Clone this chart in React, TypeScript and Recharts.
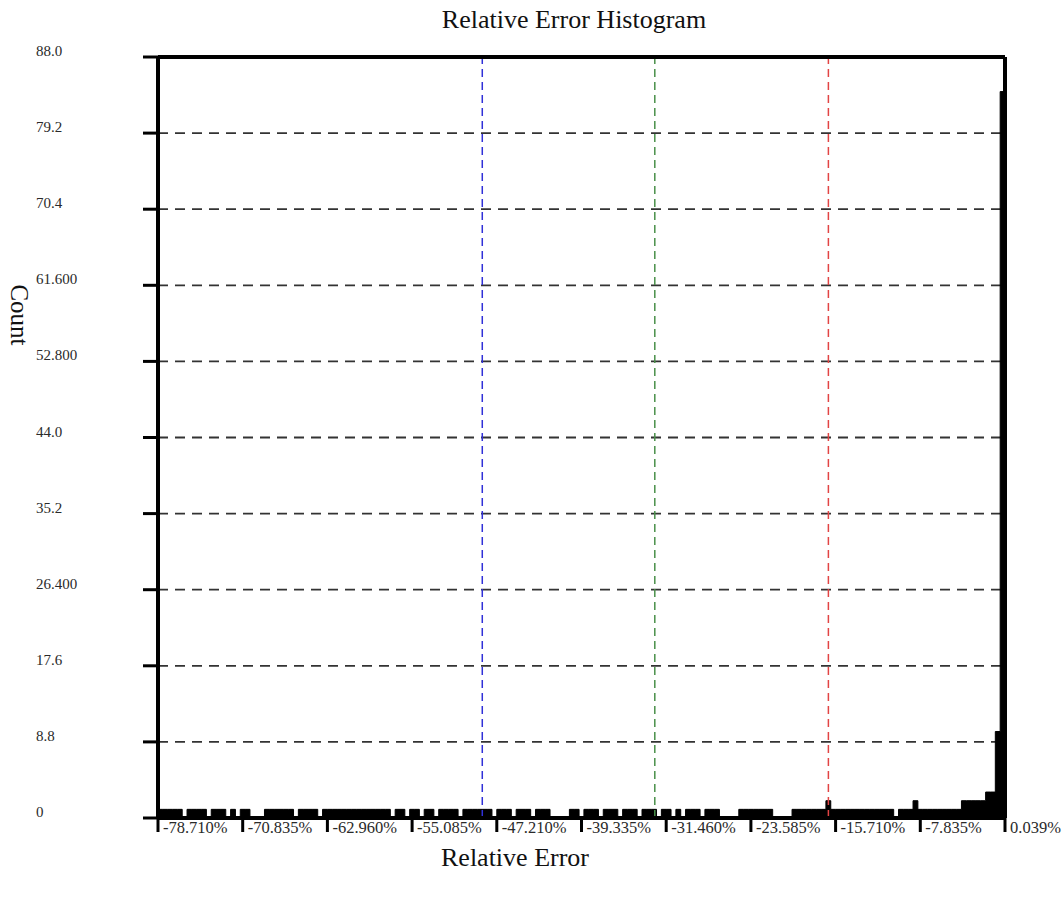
import {
  ComposedChart,
  Area,
  XAxis,
  YAxis,
  CartesianGrid,
  ReferenceLine,
  Label,
} from "recharts";

// histogram bins (relative error, %)
const binStart = -78.71;
const binWidth = 0.45;
const binCounts = [
  1, 1, 1, 1, 1, 0, 1, 1, 1, 1,
  0, 1, 1, 1, 0, 1, 0, 1, 1, 0,
  0, 0, 1, 1, 1, 1, 1, 1, 0, 1,
  1, 1, 1, 0, 1, 1, 1, 1, 1, 1,
  1, 1, 1, 1, 1, 1, 1, 1, 0, 1,
  1, 0, 1, 1, 0, 1, 1, 0, 1, 1,
  1, 1, 0, 1, 1, 1, 1, 1, 1, 0,
  1, 1, 1, 0, 1, 1, 1, 0, 1, 1,
  1, 0, 0, 0, 0, 1, 1, 0, 1, 1,
  1, 0, 1, 1, 1, 0, 1, 1, 1, 0,
  1, 1, 1, 0, 1, 1, 0, 1, 0, 1,
  1, 1, 0, 1, 1, 1, 0, 0, 0, 0,
  1, 1, 1, 1, 1, 1, 1, 0, 0, 0,
  0, 1, 1, 1, 1, 1, 1, 1, 2, 1,
  1, 1, 1, 1, 1, 1, 1, 1, 1, 1,
  1, 1, 0, 1, 1, 1, 2, 1, 1, 1,
  1, 1, 1, 1, 1, 1, 2, 2, 2, 2,
  2, 3, 3, 10, 84,
];

const xTickValues = [
  -78.71, -70.835, -62.96, -55.085, -47.21, -39.335, -31.46, -23.585, -15.71,
  -7.835, 0.04,
];
const xTickLabels = [
  "-78.710%", "-70.835%", "-62.960%", "-55.085%", "-47.210%", "-39.335%",
  "-31.460%", "-23.585%", "-15.710%", "-7.835%", "0.039%",
];
const yTickValues = [0, 8.8, 17.6, 26.4, 35.2, 44, 52.8, 61.6, 70.4, 79.2, 88];
const yTickLabels = [
  "0", "8.8", "17.6", "26.400", "35.2", "44.0", "52.800", "61.600", "70.4",
  "79.2", "88.0",
];

// marker lines
const markerValues = [-48.56, -32.52, -16.38];
const markerColors = ["#3030d8", "#4a904a", "#e24444"];

const FONT = "'Liberation Serif', 'Times New Roman', serif";

const data = binCounts
  .map((c, i) => ({ x: binStart + i * binWidth, count: c }))
  .concat([
    {
      x: binStart + binCounts.length * binWidth,
      count: binCounts[binCounts.length - 1],
    },
  ]);

function XTick(props: any) {
  const { x, y, payload } = props;
  const i = xTickValues.indexOf(payload.value);
  return (
    <text x={x + 5} y={y - 1} fontSize={16.5} fontFamily={FONT} fill="#2a2a2a">
      {xTickLabels[i]}
    </text>
  );
}

function YTick(props: any) {
  const { y, payload } = props;
  const i = yTickValues.indexOf(payload.value);
  return (
    <text x={36} y={y - 1} fontSize={15} fontFamily={FONT} fill="#2a2a2a">
      {yTickLabels[i]}
    </text>
  );
}

export default function App() {
  return (
    <div
      style={{
        position: "absolute",
        left: 0,
        top: 0,
        width: 1063,
        height: 900,
        background: "#fff",
      }}
    >
      <div
        style={{
          position: "absolute",
          left: 374,
          top: 5,
          width: 400,
          textAlign: "center",
          fontFamily: FONT,
          fontSize: 26,
          lineHeight: "30px",
          color: "#111",
        }}
      >
        Relative Error Histogram
      </div>
      <ComposedChart
        width={1063}
        height={900}
        data={data}
        margin={{ top: 57, right: 58, bottom: 0, left: 0 }}
      >
        <CartesianGrid
          vertical={false}
          stroke="#333"
          strokeWidth={1.8}
          strokeDasharray="10 7"
        />
        <XAxis
          dataKey="x"
          type="number"
          domain={[binStart, 0.04]}
          ticks={xTickValues}
          allowDataOverflow
          height={82}
          interval={0}
          tickSize={14}
          axisLine={{ stroke: "#000", strokeWidth: 4 }}
          tickLine={{ stroke: "#000", strokeWidth: 3 }}
          tick={<XTick />}
        >
          <Label
            content={() => (
              <text
                x={515}
                y={866}
                textAnchor="middle"
                fontSize={26}
                fontFamily={FONT}
                fill="#111"
              >
                Relative Error
              </text>
            )}
          />
        </XAxis>
        <YAxis
          type="number"
          domain={[0, 88]}
          ticks={yTickValues}
          interval={0}
          width={158}
          tickSize={15}
          axisLine={{ stroke: "#000", strokeWidth: 4 }}
          tickLine={{ stroke: "#000", strokeWidth: 3 }}
          tick={<YTick />}
        >
          <Label
            content={() => (
              <text
                x={11}
                y={315}
                transform="rotate(90 11 315)"
                textAnchor="middle"
                fontSize={25}
                fontFamily={FONT}
                fill="#111"
              >
                Count
              </text>
            )}
          />
        </YAxis>
        {markerValues.map((v, i) => (
          <ReferenceLine
            key={v}
            x={v}
            stroke={markerColors[i]}
            strokeWidth={1.5}
            strokeDasharray="8 5"
          />
        ))}
        <Area
          dataKey="count"
          type="stepAfter"
          fill="#000"
          fillOpacity={1}
          stroke="#000"
          strokeWidth={1}
          baseValue={0}
          isAnimationActive={false}
          dot={false}
          activeDot={false}
        />
        <ReferenceLine y={88} stroke="#000" strokeWidth={4} />
        <ReferenceLine x={0.04} stroke="#000" strokeWidth={4} />
      </ComposedChart>
    </div>
  );
}
